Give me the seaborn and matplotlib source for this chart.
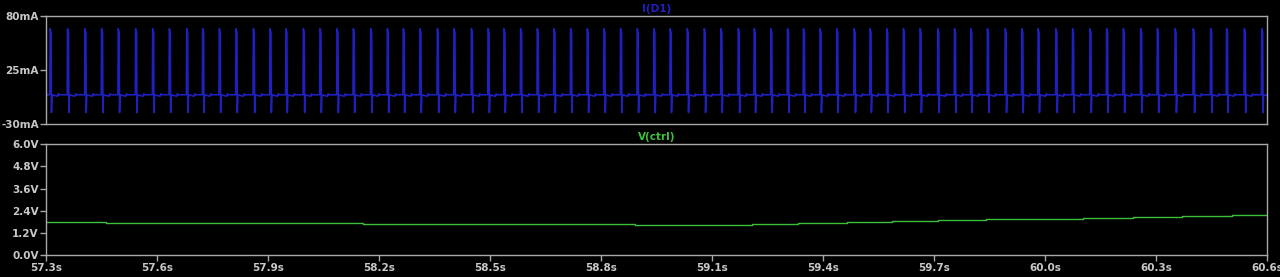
import numpy as np
import pandas as pd
import matplotlib
matplotlib.use("Agg")
import matplotlib.pyplot as plt
import seaborn as sns

# ---------------- data ----------------
# times (s) of the 73 current pulses in I(D1)
spike_times_s = [
    57.312, 57.359, 57.406, 57.451, 57.496, 57.543, 57.589, 57.634, 57.681, 57.724,
    57.769, 57.814, 57.861, 57.906, 57.949, 57.996, 58.041, 58.087, 58.131, 58.178,
    58.223, 58.266, 58.311, 58.358, 58.403, 58.450, 58.495, 58.538, 58.583, 58.628,
    58.673, 58.718, 58.763, 58.808, 58.853, 58.898, 58.943, 58.987, 59.033, 59.079,
    59.124, 59.171, 59.214, 59.259, 59.304, 59.347, 59.392, 59.437, 59.484, 59.527,
    59.572, 59.617, 59.662, 59.710, 59.755, 59.799, 59.844, 59.892, 59.937, 59.981,
    60.029, 60.074, 60.121, 60.166, 60.211, 60.258, 60.303, 60.351, 60.400, 60.447,
    60.490, 60.538, 60.585,
]
# shape of one pulse: time offset from pulse start (s) and current (mA)
pulse_offset_s = [-0.0008, 0.0, 0.0025, 0.0035, 0.0050, 0.0200, 0.0220, 0.0240]
pulse_current_mA = [0.0, 67.0, 63.0, -18.0, 0.0, -1.5, 1.0, 0.0]
baseline_mA = 0.0

# V(ctrl): step levels (start time s, voltage V)
ctrl_t = [57.300, 57.463, 58.157, 58.892, 59.208, 59.332, 59.464, 59.586,
          59.710, 59.840, 59.964, 60.102, 60.237, 60.370, 60.505, 60.600]
ctrl_v = [1.77, 1.72, 1.66, 1.61, 1.66, 1.73, 1.79, 1.86,
          1.90, 1.95, 1.97, 2.02, 2.08, 2.13, 2.18, 2.18]

x_ticks = [57.3, 57.6, 57.9, 58.2, 58.5, 58.8, 59.1, 59.4, 59.7, 60.0, 60.3, 60.6]
x_labels = ["57.3s", "57.6s", "57.9s", "58.2s", "58.5s", "58.8s", "59.1s",
            "59.4s", "59.7s", "60.0s", "60.3s", "60.6s"]
i_ticks = [-30, 25, 80]
i_labels = ["-30mA", "25mA", "80mA"]
v_ticks = [0.0, 1.2, 2.4, 3.6, 4.8, 6.0]
v_labels = ["0.0V", "1.2V", "2.4V", "3.6V", "4.8V", "6.0V"]

# ---------------- build the current trace ----------------
t_pts = [x_ticks[0]]
i_pts = [baseline_mA]
for ts in spike_times_s:
    for off, val in zip(pulse_offset_s, pulse_current_mA):
        t_pts.append(ts + off)
        i_pts.append(val)
t_pts.append(x_ticks[-1])
i_pts.append(baseline_mA)
cur_df = pd.DataFrame({"t": t_pts, "i": i_pts})
ctrl_df = pd.DataFrame({"t": ctrl_t, "v": ctrl_v})

# ---------------- style ----------------
sns.set_theme(style="dark")
plt.rcParams["font.family"] = ["DejaVu Sans"]
frame_col = "#a8a8a8"
text_col = "#c8c8c8"
blue = "#2020c0"
green = "#3cc03c"

fig = plt.figure(figsize=(12.8, 2.77), dpi=100, facecolor="black")
ax1 = fig.add_axes([45.7 / 1280, 1 - 124.3 / 277, (1267.3 - 45.7) / 1280, (124.3 - 16) / 277])
ax2 = fig.add_axes([45.7 / 1280, 1 - 255 / 277, (1267.3 - 45.7) / 1280, (255 - 144.3) / 277])

sns.lineplot(data=cur_df, x="t", y="i", ax=ax1, color=blue, lw=1.2,
             estimator=None, sort=False)
sns.lineplot(data=ctrl_df, x="t", y="v", ax=ax2, color=green, lw=1.0,
             estimator=None, sort=False, drawstyle="steps-post")

for ax in (ax1, ax2):
    ax.set_facecolor("black")
    ax.grid(False)
    for s in ax.spines.values():
        s.set_visible(True)
        s.set_color(frame_col)
        s.set_linewidth(1.0)
    ax.set_xlim(x_ticks[0], x_ticks[-1])
    ax.set_xlabel("")
    ax.set_ylabel("")
    ax.tick_params(axis="both", colors=frame_col, labelcolor=text_col,
                   labelsize=7.5, length=4, width=1, direction="out", pad=1)

ax1.set_ylim(i_ticks[0], i_ticks[-1])
ax1.set_yticks(i_ticks)
ax1.set_yticklabels(i_labels, fontweight="bold")
ax1.set_xticks([])
ax1.tick_params(axis="x", bottom=False, labelbottom=False)
ax1.tick_params(axis="y", left=True)

ax2.set_ylim(v_ticks[0], v_ticks[-1])
ax2.set_yticks(v_ticks)
ax2.set_yticklabels(v_labels, fontweight="bold")
ax2.set_xticks(x_ticks)
ax2.set_xticklabels(x_labels, fontweight="bold")
ax2.tick_params(axis="x", bottom=True, pad=2)
ax2.tick_params(axis="y", left=True)

ax1.set_title("I(D1)", color=blue, fontsize=7.5, pad=3, fontweight="bold")
ax2.set_title("V(ctrl)", color=green, fontsize=7.5, pad=3, fontweight="bold")

fig.savefig("out.png", dpi=100, facecolor="black")
